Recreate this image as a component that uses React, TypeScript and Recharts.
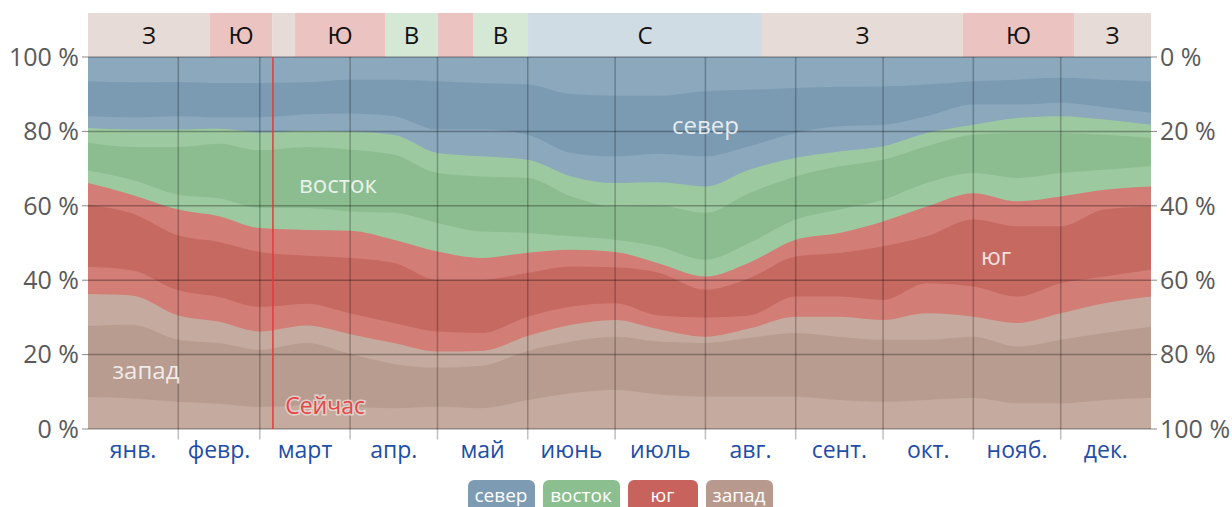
import { ComposedChart, Area, Line, XAxis, YAxis, ReferenceLine, ReferenceArea, ReferenceDot } from 'recharts';

// day of year for each sample
const days = [0, 15, 31, 45, 59, 75, 90, 105, 120, 135, 151, 166, 181, 196, 212, 227, 243, 258, 273, 288, 304, 319, 334, 349, 365];

// cumulative % boundaries, read bottom to top
const westLow = [8.6, 8.2, 7.3, 6.8, 5.9, 6.4, 6.0, 5.6, 6.0, 5.6, 7.8, 9.6, 10.5, 9.3, 8.7, 8.7, 8.7, 7.8, 7.3, 7.8, 8.3, 6.9, 6.9, 7.8, 8.3];
const westMid = [27.7, 28.0, 24.0, 23.1, 21.3, 23.1, 20.2, 17.5, 16.5, 17.0, 21.0, 23.5, 24.8, 23.5, 23.1, 24.5, 25.8, 24.8, 24.0, 24.0, 24.8, 22.2, 24.0, 25.8, 27.5];
const westTop = [36.3, 35.9, 30.5, 28.8, 26.2, 27.8, 25.5, 23.1, 20.8, 21.0, 25.0, 28.0, 29.3, 26.8, 24.8, 27.0, 30.2, 30.2, 29.3, 31.1, 30.2, 28.5, 31.1, 33.8, 35.6];
const southLow = [43.6, 42.7, 37.3, 35.5, 32.8, 33.7, 31.1, 28.5, 26.2, 25.8, 30.2, 32.9, 33.8, 30.5, 30.0, 30.5, 35.6, 35.6, 34.7, 39.2, 38.3, 35.6, 39.2, 41.0, 42.8];
const southMid = [60.3, 58.0, 52.0, 50.3, 47.6, 46.6, 46.0, 44.7, 40.1, 40.1, 42.0, 43.7, 43.5, 42.0, 37.4, 40.5, 46.4, 47.3, 49.1, 51.8, 56.3, 54.5, 54.5, 59.0, 59.8];
const southTop = [66.1, 63.0, 59.0, 57.2, 54.0, 53.5, 53.3, 50.9, 47.7, 46.0, 47.4, 48.2, 47.6, 44.5, 41.0, 44.7, 50.9, 52.7, 55.8, 59.8, 63.4, 61.2, 62.5, 64.3, 65.2];
const eastLow = [69.5, 67.0, 63.0, 62.0, 59.4, 59.4, 58.5, 58.1, 55.4, 53.1, 52.7, 51.8, 50.9, 49.0, 45.5, 50.0, 56.3, 59.0, 61.6, 66.1, 68.8, 67.5, 68.8, 69.7, 70.6];
const eastMid = [77.0, 75.8, 75.8, 76.7, 74.9, 75.8, 75.1, 73.8, 68.8, 67.9, 67.5, 62.5, 59.8, 60.0, 58.1, 63.4, 67.9, 70.6, 72.4, 76.0, 79.1, 79.6, 79.6, 79.1, 78.2];
const eastTop = [80.9, 80.5, 80.5, 80.7, 79.7, 80.2, 80.0, 79.1, 74.2, 73.3, 72.4, 67.9, 66.1, 66.3, 65.2, 69.7, 72.9, 74.6, 76.0, 79.6, 81.8, 83.6, 84.1, 83.2, 81.8];
const northLow = [84.1, 83.8, 84.1, 83.8, 83.8, 84.6, 84.8, 84.1, 80.5, 80.5, 79.1, 74.2, 73.3, 74.0, 73.3, 76.0, 79.6, 81.4, 81.8, 84.1, 87.2, 87.2, 87.7, 86.5, 85.0];
const northMid = [93.5, 93.2, 93.3, 93.0, 93.0, 93.2, 93.9, 93.9, 93.5, 93.0, 92.6, 90.0, 89.6, 89.6, 90.8, 91.2, 91.7, 92.0, 92.1, 92.6, 93.5, 93.9, 94.4, 93.9, 93.5];

const monthStarts = [0, 31, 59, 90, 120, 151, 181, 212, 243, 273, 304, 334, 365];
const monthNames = ['янв.', 'февр.', 'март', 'апр.', 'май', 'июнь', 'июль', 'авг.', 'сент.', 'окт.', 'нояб.', 'дек.'];
const monthMids = monthNames.map((_, i) => (monthStarts[i] + monthStarts[i + 1]) / 2);

// dominant direction strip on top
const domFrom = [0, 41.9, 63.2, 71.1, 102, 120.2, 132.2, 151.1, 231.4, 300.4, 338.6];
const domTo = [41.9, 63.2, 71.1, 102, 120.2, 132.2, 151.1, 231.4, 300.4, 338.6, 365];
const domDir = ['З', 'Ю', 'З', 'Ю', 'В', 'Ю', 'В', 'С', 'З', 'Ю', 'З'];

const percentTicks = [0, 20, 40, 60, 80, 100];
const nowDay = 63.5;

const C = {
  northLight: '#8ba8bd',
  northDark: '#7b9bb2',
  eastLight: '#9dc9a0',
  eastDark: '#8cbd91',
  southLight: '#d37d77',
  southDark: '#c66961',
  westLight: '#c5ab9f',
  westDark: '#b99c90',
};

const stripColor: Record<string, string> = { 'З': '#e6dbd7', 'Ю': '#ebc4c2', 'В': '#d5e8d6', 'С': '#cfdce4' };

const rows = days.map((d, i) => ({
  day: d,
  top: 100,
  northMid: northMid[i],
  northLow: northLow[i],
  eastTop: eastTop[i],
  eastMid: eastMid[i],
  eastLow: eastLow[i],
  southTop: southTop[i],
  southMid: southMid[i],
  southLow: southLow[i],
  westTop: westTop[i],
  westMid: westMid[i],
  westLow: westLow[i],
}));

// painted from the top boundary down, each one covering the previous
const layers = [
  { key: 'top', color: C.northLight },
  { key: 'northMid', color: C.northDark },
  { key: 'northLow', color: C.northLight },
  { key: 'eastTop', color: C.eastLight },
  { key: 'eastMid', color: C.eastDark },
  { key: 'eastLow', color: C.eastLight },
  { key: 'southTop', color: C.southLight },
  { key: 'southMid', color: C.southDark },
  { key: 'southLow', color: C.southLight },
  { key: 'westTop', color: C.westLight },
  { key: 'westMid', color: C.westDark },
  { key: 'westLow', color: C.westLight },
];

const dirLabels = [
  { name: 'север', day: 212, pct: 81.8 },
  { name: 'восток', day: 85.8, pct: 65.9 },
  { name: 'юг', day: 311.8, pct: 46.6 },
  { name: 'запад', day: 19.9, pct: 15.9 },
];

const legendItems = [
  { name: 'север', color: '#7d9bb3', w: 67 },
  { name: 'восток', color: '#8cbf90', w: 77 },
  { name: 'юг', color: '#c8625c', w: 70 },
  { name: 'запад', color: '#b8998d', w: 67 },
];

const gridStroke = { stroke: '#000', strokeOpacity: 0.3, strokeWidth: 1.5 };

export default function App() {
  return (
    <div style={{ position: 'absolute', left: 0, top: 0, width: 1232, height: 507, fontFamily: '"Open Sans", sans-serif', background: '#fff', overflow: 'hidden' }}>
      <ComposedChart width={1232} height={507} data={rows} margin={{ top: 57, right: 0, bottom: 37, left: 0 }}>
        <XAxis xAxisId="g" dataKey="day" type="number" domain={[0, 365]} allowDataOverflow ticks={monthStarts.slice(1, 12)}
          tick={false} tickLine={false} axisLine={false} height={1} />
        <XAxis xAxisId="m" dataKey="day" type="number" domain={[0, 365]} allowDataOverflow ticks={monthMids} axisLine={false} tickLine={false}
          tickMargin={6} height={40} interval={0}
          tickFormatter={(v: number) => monthNames[monthMids.indexOf(v)]}
          tick={{ fill: '#1e4ea6', fontSize: 23 }} />
        <YAxis yAxisId="l" type="number" domain={[0, 100]} allowDataOverflow ticks={percentTicks} width={88} axisLine={false}
          tickLine={{ stroke: '#888' }} tickSize={6} tickMargin={3} interval={0}
          tickFormatter={(v: number) => `${v} %`} tick={{ fill: '#5a5a5a', fontSize: 25 }} />
        <YAxis yAxisId="r" orientation="right" reversed type="number" domain={[0, 100]} allowDataOverflow ticks={percentTicks} width={81}
          axisLine={false} tickLine={{ stroke: '#888' }} tickSize={6} tickMargin={3} interval={0}
          tickFormatter={(v: number) => `${v} %`} tick={{ fill: '#5a5a5a', fontSize: 25 }} />

        {layers.map((l) => (
          <Area key={l.key} xAxisId="g" yAxisId="l" dataKey={l.key} type="monotone" baseValue={0}
            stroke="none" fill={l.color} fillOpacity={1} isAnimationActive={false} />
        ))}
        {/* invisible series so the label axis and the right axis get their scales */}
        <Line xAxisId="m" yAxisId="r" dataKey="top" stroke="none" dot={false} activeDot={false} isAnimationActive={false} />

        {domDir.map((d, i) => (
          <ReferenceArea key={'dom' + i} xAxisId="g" yAxisId="l" x1={domFrom[i]} x2={domTo[i]} y1={100} y2={111.8}
            ifOverflow="visible" fill={stripColor[d]} fillOpacity={1} stroke="none"
            label={domTo[i] - domFrom[i] > 15 ? { value: d, position: 'center', fill: '#111', fontSize: 24 } : undefined} />
        ))}

        {percentTicks.map((p) => (
          <ReferenceLine key={'h' + p} xAxisId="g" yAxisId="l" y={p} {...gridStroke} />
        ))}
        {/* month boundaries, running a little below the axis as tick marks */}
        {monthStarts.slice(1, 12).map((d) => (
          <ReferenceLine key={'v' + d} xAxisId="g" yAxisId="l" ifOverflow="visible"
            segment={[{ x: d, y: -2.8 }, { x: d, y: 100 }]} {...gridStroke} strokeOpacity={0.25} />
        ))}
        <ReferenceLine xAxisId="g" yAxisId="l" x={nowDay} stroke="#e23b3b" strokeWidth={1.5} />

        {dirLabels.map((t) => (
          <ReferenceDot key={t.name} xAxisId="g" yAxisId="l" x={t.day} y={t.pct} r={0}
            shape={(p: any) => (
              <text x={p.cx} y={p.cy} textAnchor="middle" dominantBaseline="central" fontSize={24}
                fill="#fff" fillOpacity={0.82}>{t.name}</text>
            )} />
        ))}
        <ReferenceDot xAxisId="g" yAxisId="l" x={81.4} y={6.5} r={0}
          shape={(p: any) => (
            <text x={p.cx} y={p.cy} textAnchor="middle" dominantBaseline="central" fontSize={23}
              fill="#e34848" stroke="#f3e6e2" strokeOpacity={0.7} strokeWidth={3} paintOrder="stroke">Сейчас</text>
          )} />
      </ComposedChart>
      <div style={{ position: 'absolute', top: 480, left: 0, width: 1232, display: 'flex', justifyContent: 'center', gap: 8, paddingLeft: 4 }}>
        {legendItems.map((it) => (
          <div key={it.name} style={{ width: it.w, height: 32, background: it.color, color: '#fff', borderRadius: 6,
            fontSize: 19, textAlign: 'center', lineHeight: '30px', boxSizing: 'border-box' }}>{it.name}</div>
        ))}
      </div>
    </div>
  );
}
